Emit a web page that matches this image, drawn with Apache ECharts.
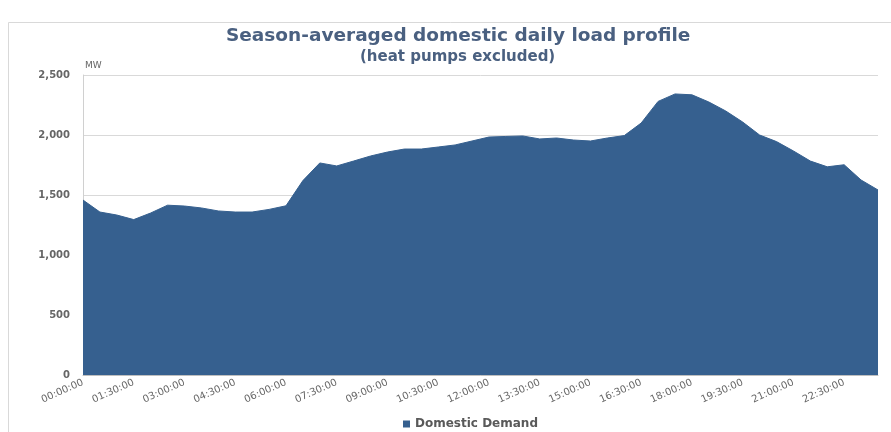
<!DOCTYPE html>
<html>
<head>
<meta charset="utf-8">
<script src="https://cdn.jsdelivr.net/npm/echarts@6/dist/echarts.min.js"></script>
<style>html,body{margin:0;padding:0;background:#fff}#c{width:891px;height:432px}</style>
</head>
<body>
<div id="c"></div>
<script>
var times = ['00:00:00','00:30:00','01:00:00','01:30:00','02:00:00','02:30:00','03:00:00','03:30:00','04:00:00','04:30:00','05:00:00','05:30:00',
'06:00:00','06:30:00','07:00:00','07:30:00','08:00:00','08:30:00','09:00:00','09:30:00','10:00:00','10:30:00','11:00:00','11:30:00',
'12:00:00','12:30:00','13:00:00','13:30:00','14:00:00','14:30:00','15:00:00','15:30:00','16:00:00','16:30:00','17:00:00','17:30:00',
'18:00:00','18:30:00','19:00:00','19:30:00','20:00:00','20:30:00','21:00:00','21:30:00','22:00:00','22:30:00','23:00:00','23:30:00'];
var demand = [1458,1358,1333,1295,1350,1415,1408,1392,1367,1358,1358,1380,
1410,1620,1767,1742,1783,1825,1858,1883,1883,1900,1917,1950,
1983,1988,1992,1967,1975,1958,1950,1975,1995,2100,2280,2342,
2335,2275,2200,2108,2000,1945,1867,1783,1735,1752,1625,1542];
var yTicks = [0,500,1000,1500,2000,2500];

var FONT = 'DejaVu Sans';
var chart = echarts.init(document.getElementById('c'));
chart.setOption({
  animation: false,
  backgroundColor: '#fff',
  graphic: [{type:'rect', shape:{x:8.5,y:22.5,width:900,height:500}, style:{fill:'none', stroke:'#d9d9d9', lineWidth:1}, z:-1}],
  title: [
    {text:'Season-averaged domestic daily load profile', left:226, top:27, padding:0,
     textStyle:{fontFamily:FONT, fontWeight:'bold', fontSize:18.5, color:'#4a6080'}},
    {text:'(heat pumps excluded)', left:360, top:50, padding:0,
     textStyle:{fontFamily:FONT, fontWeight:'bold', fontSize:15, color:'#4a6080'}}
  ],
  legend: {data:['Domestic Demand'], left:403, top:418, icon:'rect', itemWidth:7, itemHeight:7, itemGap:5, padding:0,
    textStyle:{fontFamily:FONT, fontWeight:'bold', fontSize:12, color:'#595959'}},
  grid: {left:83, right:13, top:75, bottom:57, containLabel:false},
  xAxis: {type:'category', data:times, boundaryGap:false,
    axisLine:{show:true, lineStyle:{color:'#bfbfbf'}}, axisTick:{show:false},
    axisLabel:{interval:2, rotate:24, fontSize:10, color:'#666', fontFamily:FONT, margin:7}},
  yAxis: {type:'value', min:0, max:2500, interval:500, name:'MW', nameLocation:'end', nameGap:5,
    nameTextStyle:{fontSize:9, color:'#666', fontFamily:FONT, align:'left', padding:[0,0,0,2]},
    axisLine:{show:true, lineStyle:{color:'#d0d0d0'}}, axisTick:{show:false},
    splitLine:{lineStyle:{color:'#d9d9d9'}},
    axisLabel:{fontSize:10, color:'#666', fontFamily:FONT, fontWeight:'bold', margin:13,
      formatter:function(v){return yTicks.indexOf(v)>=0 ? v.toLocaleString('en-US') : '';}}},
  series: [{name:'Domestic Demand', type:'line', data:demand, symbol:'none',
    lineStyle:{width:1, color:'#36608f'}, itemStyle:{color:'#36608f'},
    areaStyle:{color:'#36608f', opacity:1}}]
});
</script>
</body>
</html>
